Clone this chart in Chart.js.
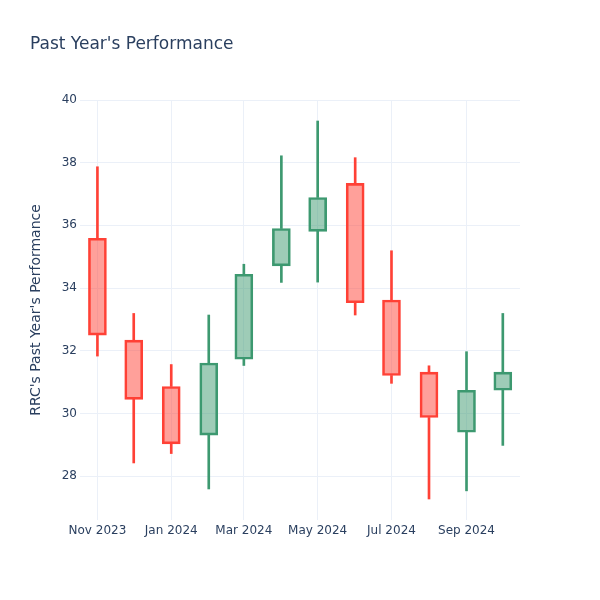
<!DOCTYPE html>
<html lang="en">
<head>
    <meta charset="UTF-8">
    <title>Past Year's Performance</title>
    <script src="https://cdn.jsdelivr.net/npm/chart.js"></script>
    <style>
        body { margin: 0; background: #fff; }
    </style>
</head>
<body>
    <canvas id="candles" width="600" height="600"></canvas>
    <script>
        // monthly candles, RRC
        const months = ['2023-11-01', '2023-12-01', '2024-01-01', '2024-02-01', '2024-03-01', '2024-04-01',
            '2024-05-01', '2024-06-01', '2024-07-01', '2024-08-01', '2024-09-01', '2024-10-01'];
        const openV = [35.59, 32.34, 30.86, 29.31, 31.73, 34.71, 35.81, 37.34, 33.62, 31.32, 29.40, 30.74];
        const highV = [37.87, 33.19, 31.56, 33.14, 34.76, 38.22, 39.33, 38.16, 35.19, 31.52, 31.97, 33.19];
        const lowV = [31.83, 28.42, 28.72, 27.59, 31.53, 34.18, 34.19, 33.14, 30.96, 27.27, 27.53, 28.98];
        const closeV = [32.50, 30.45, 29.03, 31.61, 34.44, 35.90, 36.89, 33.53, 31.21, 29.87, 30.74, 31.32];

        const xTickDates = ['2023-11-01', '2024-01-01', '2024-03-01', '2024-05-01', '2024-07-01', '2024-09-01'];
        const xTickLabels = ['Nov 2023', 'Jan 2024', 'Mar 2024', 'May 2024', 'Jul 2024', 'Sep 2024'];
        const yTicks = [28, 30, 32, 34, 36, 38, 40];

        const upLine = '#3D9970', upFill = 'rgba(61,153,112,0.5)';
        const downLine = '#FF4136', downFill = 'rgba(255,65,54,0.5)';
        const txt = '#2a3f5f';
        const grid = '#EBF0F8';

        // days since first month, used as linear x value
        const base = Date.UTC(2023, 10, 1);
        const toDay = s => {
            const p = s.split('-').map(Number);
            return (Date.UTC(p[0], p[1] - 1, p[2]) - base) / 86400000;
        };
        const xs = months.map(toDay);
        const tickXs = xTickDates.map(toDay);

        const up = openV.map((o, i) => closeV[i] >= o);
        const lineCol = up.map(u => u ? upLine : downLine);
        const fillCol = up.map(u => u ? upFill : downFill);

        const bodies = xs.map((x, i) => ({ x: x, y: [openV[i], closeV[i]] }));
        const upperWick = xs.map((x, i) => ({ x: x, y: [Math.max(openV[i], closeV[i]), highV[i]] }));
        const lowerWick = xs.map((x, i) => ({ x: x, y: [lowV[i], Math.min(openV[i], closeV[i])] }));

        const titlePlugin = {
            id: 'plotTitle',
            afterDraw(chart) {
                const c = chart.ctx;
                c.save();
                c.font = '17px "DejaVu Sans"';
                c.fillStyle = txt;
                c.textBaseline = 'middle';
                c.fillText("Past Year's Performance", 30, 45);
                c.restore();
            }
        };

        const wickStyle = {
            barThickness: 2,
            borderWidth: 0,
            grouped: false
        };

        new Chart(document.getElementById('candles'), {
            type: 'bar',
            data: {
                datasets: [{
                    label: 'body',
                    data: bodies,
                    backgroundColor: fillCol,
                    borderColor: lineCol,
                    borderWidth: 2,
                    borderSkipped: false,
                    barThickness: 18,
                    grouped: false
                }, Object.assign({
                    label: 'upper',
                    data: upperWick,
                    backgroundColor: lineCol
                }, wickStyle), Object.assign({
                    label: 'lower',
                    data: lowerWick,
                    backgroundColor: lineCol
                }, wickStyle)]
            },
            options: {
                responsive: false,
                animation: false,
                layout: { padding: { left: 24, right: 80, top: 100, bottom: 0 } },
                plugins: {
                    legend: { display: false },
                    tooltip: { enabled: false },
                    title: { display: false }
                },
                scales: {
                    x: {
                        type: 'linear',
                        min: -14.4,
                        max: 349.2,
                        offset: false,
                        afterFit: s => { s.height = 80; },
                        afterBuildTicks: s => { s.ticks = tickXs.map(v => ({ value: v })); },
                        ticks: {
                            autoSkip: false,
                            maxRotation: 0,
                            padding: 4,
                            color: txt,
                            font: { family: 'DejaVu Sans', size: 12 },
                            callback: v => xTickLabels[tickXs.indexOf(v)]
                        },
                        grid: { color: grid, lineWidth: 1, drawTicks: false, offset: false },
                        border: { display: false }
                    },
                    y: {
                        min: 26.6,
                        max: 40,
                        afterFit: s => { s.width = 56; },
                        afterBuildTicks: s => { s.ticks = yTicks.map(v => ({ value: v })); },
                        ticks: {
                            padding: 3,
                            color: txt,
                            font: { family: 'DejaVu Sans', size: 12 }
                        },
                        grid: { color: grid, lineWidth: 1, drawTicks: false },
                        border: { display: false },
                        title: {
                            display: true,
                            text: "RRC's Past Year's Performance",
                            color: txt,
                            font: { family: 'DejaVu Sans', size: 14 }
                        }
                    }
                }
            },
            plugins: [titlePlugin]
        });
    </script>
</body>
</html>
